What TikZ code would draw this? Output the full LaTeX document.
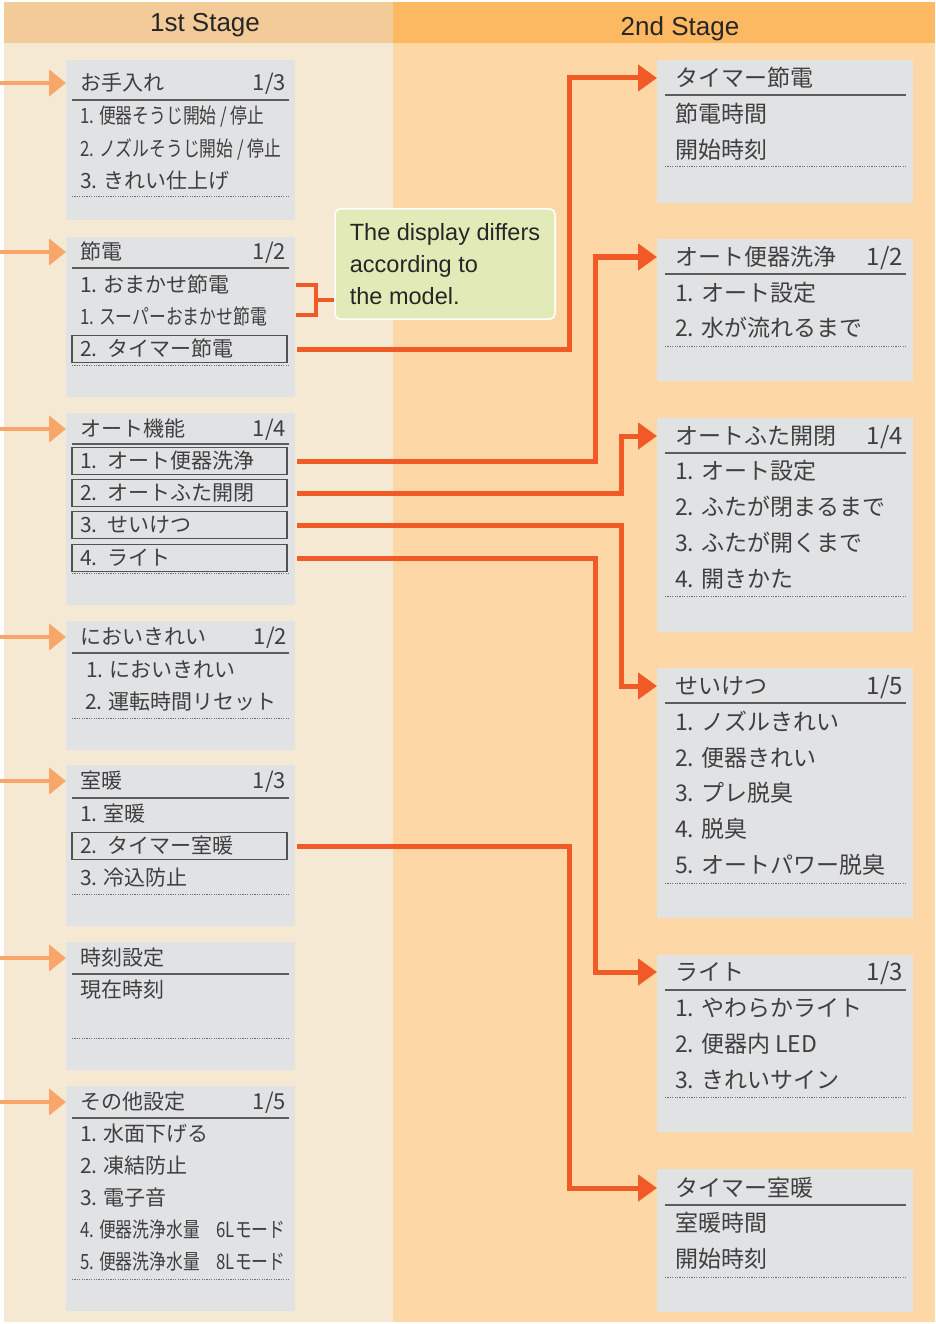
\documentclass[tikz,border=0pt]{standalone}
\usepackage{fontspec}
\setmainfont{Noto Sans CJK JP}
\newfontfamily\narrowjp[FakeStretch=0.8]{Noto Sans CJK JP}
\newfontfamily\latin{Liberation Sans}
\usepackage{xcolor}
\usepackage{tikz}
\usetikzlibrary{arrows.meta}
\usetikzlibrary{positioning}
\usetikzlibrary{calc}

\definecolor{leftbg}{HTML}{F5E9D4}
\definecolor{lefthead}{HTML}{F3CB99}
\definecolor{rightbg}{HTML}{FED7A6}
\definecolor{righthead}{HTML}{FDB862}
\definecolor{panelgray}{HTML}{E1E2E4}
\definecolor{inorange}{HTML}{F9A66B}
\definecolor{connorange}{HTML}{F15A26}
\definecolor{notegreen}{HTML}{E2EBB8}
\definecolor{txt}{HTML}{3F3F3F}

\tikzset{
  head/.style={text=black!85, inner sep=0pt, font=\latin\fontsize{26}{30}\selectfont, text height=18.7pt, text depth=0pt},
  panel/.style={fill=panelgray, minimum width=229pt, minimum height=#1, inner sep=0pt, outer sep=0pt},
  rpanel/.style={fill=panelgray, minimum width=256pt, minimum height=#1, inner sep=0pt, outer sep=0pt},
  ltitle/.style={anchor=west, inner xsep=14pt, inner ysep=0pt, outer sep=0pt, text=txt, font=\fontsize{21}{24}\selectfont, text height=16.4pt, text depth=1.3pt},
  lfrac/.style={ltitle, anchor=east, inner xsep=3pt, font=\fontsize{22}{24}\selectfont},
  litem/.style={anchor=west, inner xsep=8pt, inner ysep=0pt, outer sep=0pt, text=txt, font=\fontsize{21}{24}\selectfont, text height=16.4pt, text depth=1.3pt},
  lnarrow/.style={litem, font=\narrowjp\fontsize{21}{24}\selectfont},
  lbox/.style={litem, draw=txt!90, line width=1.2pt, text width=199pt, minimum height=27pt},
  rtitle/.style={anchor=west, inner xsep=18pt, inner ysep=0pt, outer sep=0pt, text=txt, font=\fontsize{23}{26}\selectfont, text height=18pt, text depth=1.4pt},
  rfrac/.style={rtitle, anchor=east, inner xsep=3pt, font=\fontsize{24}{26}\selectfont},
  ritem/.style={anchor=west, inner xsep=10pt, inner ysep=0pt, outer sep=0pt, text=txt, font=\fontsize{23}{26}\selectfont, text height=18pt, text depth=1.4pt},
  rule/.style={draw=txt!85, line width=1.4pt},
  dots/.style={draw=txt!75, line width=1pt, dash pattern=on 1.2pt off 1.2pt},
  inarrow/.style={draw=inorange, line width=4.5pt, -{Triangle[length=17pt,width=26pt]}},
  conn/.style={draw=connorange, line width=5pt, -{Triangle[length=19pt,width=26pt]}},
  bracket/.style={draw=connorange, line width=4pt},
  note/.style={fill=notegreen, draw=white, line width=1.5pt, rounded corners=5pt, minimum width=220pt, minimum height=110pt, align=left, inner xsep=13pt, text=black!85, font=\latin\fontsize{23.5}{32}\selectfont}
}

\begin{document}
\begin{tikzpicture}[x=1pt,y=-1pt]
    \useasboundingbox (0,0) rectangle (935,1324);
    % backgrounds
    \fill[lefthead] (4,2) rectangle (393,43);
    \fill[righthead] (393,2) rectangle (935,43);
    \fill[leftbg] (4,43) rectangle (393,1322);
    \fill[rightbg] (393,43) rectangle (935,1322);
    \node(h1)[head] at (205,22.5) {1st Stage};
    \node(h2)[head] at (680,26) {2nd Stage};

    % 1st stage
    \node(p1)[panel=160pt] at (180.5,140) {};
    \node(t1)[ltitle] at (66,83) {お手入れ};
    \node(f1)[lfrac] at (289,83) {1/3};
    \draw[rule] (72,100) -- (289,100);
    \node(s11)[lnarrow] at (72,116) {1. 便器そうじ開始 / 停止};
    \node(s12)[lnarrow] at (72,149) {2. ノズルそうじ開始 / 停止};
    \node(s13)[litem] at (72,181) {3. きれい仕上げ};
    \draw[dots] (72,197) -- (289,197);

    \node(p2)[panel=160pt] at (180.5,317) {};
    \node(t2)[ltitle] at (66,252) {節電};
    \node(f2)[lfrac] at (289,252) {1/2};
    \draw[rule] (72,268) -- (289,268);
    \node(s21)[litem] at (72,285) {1. おまかせ節電};
    \node(s22)[lnarrow] at (72,317) {1. スーパーおまかせ節電};
    \node(b23)[lbox] at (72,349) {2. タイマー節電};
    \draw[dots] (72,365) -- (289,365);

    \node(p3)[panel=192pt] at (180.5,509) {};
    \node(t3)[ltitle] at (66,429) {オート機能};
    \node(f3)[lfrac] at (289,429) {1/4};
    \draw[rule] (72,444) -- (289,444);
    \node(b31)[lbox] at (72,461) {1. オート便器洗浄};
    \node(b32)[lbox] at (72,493) {2. オートふた開閉};
    \node(b33)[lbox] at (72,525) {3. せいけつ};
    \node(b34)[lbox] at (72,558) {4. ライト};
    \draw[dots] (72,573) -- (289,573);

    \node(p4)[panel=129pt] at (180.5,685.5) {};
    \node(t4)[ltitle] at (66,637) {においきれい};
    \node(f4)[lfrac] at (290,637) {1/2};
    \draw[rule] (72,653) -- (289,653);
    \node(s41)[litem] at (78,670) {1. においきれい};
    \node(s42)[litem] at (77,702) {2. 運転時間リセット};
    \draw[dots] (72,718) -- (289,718);

    \node(p5)[panel=161pt] at (180.5,845.5) {};
    \node(t5)[ltitle] at (66,781) {室暖};
    \node(f5)[lfrac] at (289,781) {1/3};
    \draw[rule] (72,798) -- (289,798);
    \node(s51)[litem] at (72,814) {1. 室暖};
    \node(b52)[lbox] at (72,846) {2. タイマー室暖};
    \node(s53)[litem] at (72,878) {3. 冷込防止};
    \draw[dots] (72,894) -- (289,894);

    \node(p6)[panel=128pt] at (180.5,1006) {};
    \node(t6)[ltitle] at (66,958) {時刻設定};
    \draw[rule] (72,974) -- (289,974);
    \node(s61)[litem] at (72,990) {現在時刻};
    \draw[dots] (72,1038) -- (289,1038);

    \node(p7)[panel=225pt] at (180.5,1198.5) {};
    \node(t7)[ltitle] at (66,1102) {その他設定};
    \node(f7)[lfrac] at (289,1102) {1/5};
    \draw[rule] (72,1118) -- (289,1118);
    \node(s71)[litem] at (72,1134) {1. 水面下げる};
    \node(s72)[litem] at (72,1166) {2. 凍結防止};
    \node(s73)[litem] at (72,1198) {3. 電子音};
    \node(s74)[lnarrow] at (72,1230) {4. 便器洗浄水量　6Lモード};
    \node(s75)[lnarrow] at (72,1262) {5. 便器洗浄水量　8Lモード};
    \draw[dots] (72,1279) -- (289,1279);

    \draw[inarrow] ([xshift=-66pt]t1.west) -- (t1.west);
    \draw[inarrow] ([xshift=-66pt]t2.west) -- (t2.west);
    \draw[inarrow] ([xshift=-66pt]t3.west) -- (t3.west);
    \draw[inarrow] ([xshift=-66pt]t4.west) -- (t4.west);
    \draw[inarrow] ([xshift=-66pt]t5.west) -- (t5.west);
    \draw[inarrow] ([xshift=-66pt]t6.west) -- (t6.west);
    \draw[inarrow] ([xshift=-66pt]t7.west) -- (t7.west);

    % note
    \node(n)[note] at (445,264) {The display differs\\according to\\the model.};
    \coordinate(bk) at (316,300);
    \draw[bracket] ($(p2.east |- s21)+(1,0)$) -| (bk) |- ($(p2.east |- s22)+(1,-2)$);
    \draw[bracket] (bk) -- (bk -| n.west);

    % 2nd stage
    \node(q1)[rpanel=143pt] at (785,131.5) {};
    \node(r1t)[rtitle] at (657,78) {タイマー節電};
    \draw[rule] (665,95) -- (906,95);
    \node(r11)[ritem] at (665,114) {節電時間};
    \node(r12)[ritem] at (665,150) {開始時刻};
    \draw[dots] (665,167) -- (906,167);

    \node(q2)[rpanel=142pt] at (785,310) {};
    \node(r2t)[rtitle] at (657,257) {オート便器洗浄};
    \node(g2)[rfrac] at (906,257) {1/2};
    \draw[rule] (665,274) -- (906,274);
    \node(r21)[ritem] at (665,293) {1. オート設定};
    \node(r22)[ritem] at (665,328) {2. 水が流れるまで};
    \draw[dots] (665,346) -- (906,346);

    \node(q3)[rpanel=214pt] at (785,525) {};
    \node(r3t)[rtitle] at (657,436) {オートふた開閉};
    \node(g3)[rfrac] at (906,436) {1/4};
    \draw[rule] (665,453) -- (906,453);
    \node(r31)[ritem] at (665,471) {1. オート設定};
    \node(r32)[ritem] at (665,507) {2. ふたが閉まるまで};
    \node(r33)[ritem] at (665,543) {3. ふたが開くまで};
    \node(r34)[ritem] at (665,579) {4. 開きかた};
    \draw[dots] (665,596) -- (906,596);

    \node(q4)[rpanel=250pt] at (785,793) {};
    \node(r4t)[rtitle] at (657,686) {せいけつ};
    \node(g4)[rfrac] at (906,686) {1/5};
    \draw[rule] (665,703) -- (906,703);
    \node(r41)[ritem] at (665,722) {1. ノズルきれい};
    \node(r42)[ritem] at (665,758) {2. 便器きれい};
    \node(r43)[ritem] at (665,793) {3. プレ脱臭};
    \node(r44)[ritem] at (665,829) {4. 脱臭};
    \node(r45)[ritem] at (665,865) {5. オートパワー脱臭};
    \draw[dots] (665,883) -- (906,883);

    \node(q5)[rpanel=177pt] at (785,1043.5) {};
    \node(r5t)[rtitle] at (657,972) {ライト};
    \node(g5)[rfrac] at (906,972) {1/3};
    \draw[rule] (665,990) -- (906,990);
    \node(r51)[ritem] at (665,1008) {1. やわらかライト};
    \node(r52)[ritem] at (665,1044) {2. 便器内 LED};
    \node(r53)[ritem] at (665,1080) {3. きれいサイン};
    \draw[dots] (665,1097) -- (906,1097);

    \node(q6)[rpanel=143pt] at (785,1240.5) {};
    \node(r6t)[rtitle] at (657,1188) {タイマー室暖};
    \draw[rule] (665,1205) -- (906,1205);
    \node(r61)[ritem] at (665,1223) {室暖時間};
    \node(r62)[ritem] at (665,1259) {開始時刻};
    \draw[dots] (665,1277) -- (906,1277);

    % connectors
    \draw[conn] ([xshift=10pt]b23.east) -- ++(272,0) |- (r1t.west);
    \draw[conn] ([xshift=10pt]b31.east) -- ++(298,0) |- (r2t.west);
    \draw[conn] ([xshift=10pt]b32.east) -- ++(324,0) |- (r3t.west);
    \draw[conn] ([xshift=10pt]b33.east) -- ++(324,0) |- (r4t.west);
    \draw[conn] ([xshift=10pt]b34.east) -- ++(298,0) |- (r5t.west);
    \draw[conn] ([xshift=10pt]b52.east) -- ++(272,0) |- (r6t.west);
\end{tikzpicture}
\end{document}
